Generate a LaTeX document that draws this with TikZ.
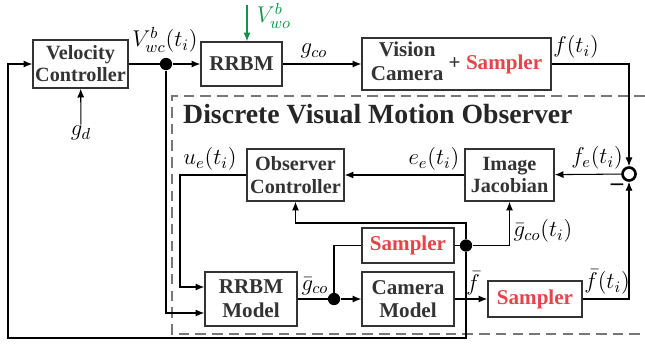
\documentclass[tikz,border=0pt]{standalone}
\usepackage{fix-cm}
\usepackage{fontspec}
\setmainfont{Liberation Serif}[BoldFont={Liberation Serif Bold}]
\usetikzlibrary{calc, arrows.meta}
\definecolor{boxgray}{HTML}{333333}
\definecolor{smpred}{HTML}{E8424B}
\definecolor{wogreen}{HTML}{14924A}
\definecolor{dashgray}{HTML}{777777}

\begin{document}
\begin{tikzpicture}[x=0.02cm, y=-0.02cm, >={Latex[length=5pt,width=4pt]},
  blk/.style={draw=boxgray, line width=0.8pt, text=boxgray, align=center, inner sep=0pt,
    font=\fontsize{12}{13.5}\selectfont\bfseries},
  lbl/.style={font=\fontsize{13}{15}\selectfont, inner sep=0.5pt},
  dot/.style={circle, fill=black, inner sep=0pt, minimum size=7pt},
  wire/.style={line width=0.6pt}]
  \useasboundingbox (0,0) rectangle (645,345);
  % Discrete visual motion observer frame
  \draw[dashgray, line width=1.1pt, dash pattern=on 6pt off 3.5pt]
    (645,96) -- (172,96) -- (172,334) -- (645,334);
  \node[anchor=west, font=\fontsize{15.8}{18}\selectfont\bfseries, text=black!85] (title) at (177,114)
    {Discrete Visual Motion Observer};
  % Blocks
  \node[blk, minimum width=1.9cm, minimum height=0.96cm, font=\fontsize{11.5}{12.5}\selectfont\bfseries]
    (vc) at (80.5,64) {Velocity\\Controller};
  \node[blk, minimum width=1.62cm, minimum height=0.88cm] (rrbm) at (241.5,64) {RRBM};
  \node[blk, minimum width=3.78cm, minimum height=1.04cm] (cam) at (456.5,64)
    {\begin{tabular}{@{}c@{}}Vision\\Camera\end{tabular} + \textcolor{smpred}{Sampler}};
  \node[circle, draw=black, line width=1.5pt, minimum size=0.26cm, inner sep=0pt] (sum) at (629,174) {};
  \node[blk, minimum width=1.78cm, minimum height=1.04cm, font=\fontsize{11.5}{13}\selectfont\bfseries]
    (jac) at (509.5,175) {Image\\Jacobian};
  \node[blk, minimum width=1.94cm, minimum height=1.04cm, font=\fontsize{11.5}{13}\selectfont\bfseries]
    (obs) at (295.5,175) {Observer\\Controller};
  \node[blk, minimum width=1.84cm, minimum height=0.7cm, text=smpred] (smp1) at (408,245.5) {Sampler};
  \node[blk, minimum width=1.84cm, minimum height=1.08cm] (rm) at (251,299) {RRBM\\Model};
  \node[blk, minimum width=1.84cm, minimum height=1.08cm] (cm) at (408,299) {Camera\\Model};
  \node[blk, minimum width=1.88cm, minimum height=0.72cm, text=smpred] (smp2) at (535,299) {Sampler};
  % Branch points
  \node[dot] (d1) at (166,64) {};
  \node[dot] (d2) at (334,299) {};
  \node[dot] (d3) at (466,245.5) {};
  \coordinate (fb) at (8,338);
  \coordinate (ue) at (180,175);
  \coordinate (oc) at (295.5,223);
  \coordinate (wo) at (247,5);
  % Labels
  \node[lbl] (lvwc) at (165,40) {$V_{wc}^{b}(t_i)$};
  \node[lbl, text=wogreen] (lvwo) at (274,16) {$V_{wo}^{b}$};
  \node[lbl] (lgco) at (314,51) {$g_{co}$};
  \node[lbl] (lf) at (576,47) {$f(t_i)$};
  \node[lbl] (lfe) at (597,158) {$f_e(t_i)$};
  \node[lbl] (lee) at (434,159) {$e_e(t_i)$};
  \node[lbl] (lue) at (210,159) {$u_e(t_i)$};
  \node[lbl] (gd) at (81,133) {$g_d$};
  \node[lbl] (lgbt) at (543,231) {$\bar{g}_{co}(t_i)$};
  \node[lbl] (lgb) at (315,286) {$\bar{g}_{co}$};
  \node[lbl] (lfb) at (473,283) {$\bar{f}$};
  \node[lbl] (lfbt) at (607,282) {$\bar{f}(t_i)$};
  \node[font=\fontsize{14}{15}\selectfont\bfseries] (minus) at (617,187) {--};
  % Connections
  \draw[wire, ->] (gd) -- (vc);
  \draw[wire] (vc) -- (d1);
  \draw[wire, ->] (d1) -- (rrbm);
  \draw[wire, ->, wogreen] (wo) -- (wo |- rrbm.north);
  \draw[wire, ->] (rrbm) -- (cam);
  \draw[wire, ->] (cam.east) -| (sum.north);
  \draw[wire, ->] (sum) -- (jac);
  \draw[wire, ->] (jac) -- (obs);
  \draw[wire, ->] (obs.west) -- (ue) |- ($(rm.west)+(0,-12)$);
  \draw[wire, ->] (d1) |- ($(rm.west)+(0,14)$);
  \draw[wire] (rm) -- (d2);
  \draw[wire, ->] (d2) -- (cm);
  \draw[wire] (d2) |- (smp1.west);
  \draw[wire] (smp1) -- (d3);
  \draw[wire, ->] (d3) -| (jac.south);
  \draw[wire, ->] (d3) |- (oc) -- (obs.south);
  \draw[wire, ->] (d3) |- (fb) |- (vc.west);
  \draw[wire, ->] (cm) -- (smp2);
  \draw[wire, ->] (smp2.east) -| (sum.south);
\end{tikzpicture}
\end{document}
